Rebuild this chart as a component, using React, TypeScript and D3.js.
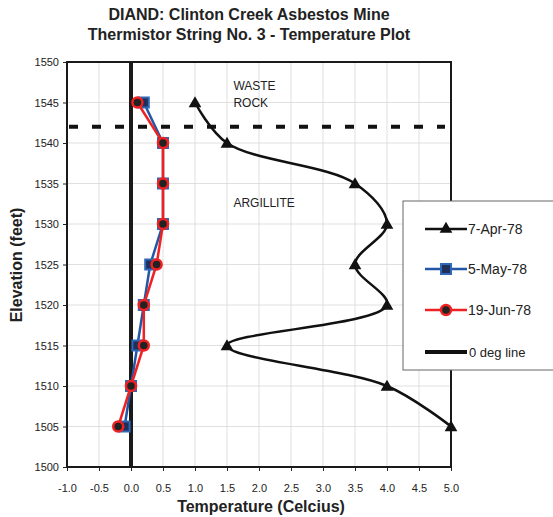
import React, { useEffect, useRef } from "react";
import * as d3 from "d3";

const elevations = [1545, 1540, 1535, 1530, 1525, 1520, 1515, 1510, 1505];
const apr78 = [1.0, 1.5, 3.5, 4.0, 3.5, 4.0, 1.5, 4.0, 5.0];
const may78 = [0.2, 0.5, 0.5, 0.5, 0.3, 0.2, 0.1, 0.0, -0.1];
const jun78 = [0.1, 0.5, 0.5, 0.5, 0.4, 0.2, 0.2, 0.0, -0.2];
const xTicks = [-1.0, -0.5, 0, 0.5, 1.0, 1.5, 2.0, 2.5, 3.0, 3.5, 4.0, 4.5, 5.0];
const yTicks = [1500, 1505, 1510, 1515, 1520, 1525, 1530, 1535, 1540, 1545, 1550];
const contactElevation = 1542;
const legendLabels = ["7-Apr-78", "5-May-78", "19-Jun-78", "0 deg line"];

const FONT = "Liberation Sans, Arial, sans-serif";

export default function App() {
  const svgRef = useRef<SVGSVGElement | null>(null);

  useEffect(() => {
    const width = 553;
    const height = 517;
    const margin = { top: 62, right: 102, bottom: 50, left: 67 };
    const w = width - margin.left - margin.right;
    const h = height - margin.top - margin.bottom;

    const svg = d3.select(svgRef.current);
    svg.selectAll("*").remove();
    svg.attr("width", width).attr("height", height).style("display", "block");

    svg.append("rect").attr("width", width).attr("height", height).attr("fill", "#fff");

    const x = d3.scaleLinear().domain([-1, 5]).range([0, w]);
    const y = d3.scaleLinear().domain([1500, 1550]).range([h, 0]);

    const chart = svg.append("g").attr("transform", `translate(${margin.left},${margin.top})`);

    // grid
    chart
      .selectAll(".vgrid")
      .data(xTicks)
      .enter()
      .append("line")
      .attr("x1", (d) => x(d))
      .attr("x2", (d) => x(d))
      .attr("y1", 0)
      .attr("y2", h)
      .attr("stroke", "#d8d8d8")
      .attr("stroke-width", 0.8);
    chart
      .selectAll(".hgrid")
      .data(yTicks)
      .enter()
      .append("line")
      .attr("x1", 0)
      .attr("x2", w)
      .attr("y1", (d) => y(d))
      .attr("y2", (d) => y(d))
      .attr("stroke", "#d8d8d8")
      .attr("stroke-width", 0.8);

    // axes
    const xAxis = chart
      .append("g")
      .attr("transform", `translate(0,${h})`)
      .call(
        d3
          .axisBottom(x)
          .tickValues(xTicks)
          .tickSize(4)
          .tickPadding(13)
          .tickFormat((d) => (d as number).toFixed(1))
      );
    const yAxis = chart
      .append("g")
      .call(d3.axisLeft(y).tickValues(yTicks).tickSize(4).tickPadding(4).tickFormat(d3.format("d")));
    [xAxis, yAxis].forEach((a) => {
      a.select(".domain").remove();
      a.selectAll("line").attr("stroke", "#222");
      a.selectAll("text").style("font-family", FONT).style("font-size", "11px").attr("fill", "#222");
    });

    // plot frame
    chart
      .append("rect")
      .attr("width", w)
      .attr("height", h)
      .attr("fill", "none")
      .attr("stroke", "#1a1a1a")
      .attr("stroke-width", 2);

    // contact line
    chart
      .append("line")
      .attr("x1", x(-1) + 2)
      .attr("x2", x(5) - 6)
      .attr("y1", y(contactElevation))
      .attr("y2", y(contactElevation))
      .attr("stroke", "#111")
      .attr("stroke-width", 4)
      .attr("stroke-dasharray", "9,14");

    // 0 deg line
    chart
      .append("line")
      .attr("x1", x(0))
      .attr("x2", x(0))
      .attr("y1", 0)
      .attr("y2", h)
      .attr("stroke", "#1a1a1a")
      .attr("stroke-width", 4);

    // annotations
    const note = (txt: string, ex: number, ey: number) =>
      chart
        .append("text")
        .attr("x", x(ex))
        .attr("y", y(ey))
        .style("font-family", FONT)
        .style("font-size", "12px")
        .attr("fill", "#222")
        .text(txt);
    note("WASTE", 1.6, 1546.5);
    note("ROCK", 1.6, 1544.5);
    note("ARGILLITE", 1.6, 1532.1);

    const toPts = (vals: number[]) => vals.map((v, i) => [v, elevations[i]] as [number, number]);

    const smooth = d3
      .line<[number, number]>()
      .x((d) => x(d[0]))
      .y((d) => y(d[1]))
      .curve(d3.curveCatmullRom.alpha(0.5));
    const straight = d3
      .line<[number, number]>()
      .x((d) => x(d[0]))
      .y((d) => y(d[1]));

    const tri = d3.symbol().type(d3.symbolTriangle).size(70);

    // blue series
    chart
      .append("path")
      .attr("d", straight(toPts(may78)))
      .attr("fill", "none")
      .attr("stroke", "#2456a6")
      .attr("stroke-width", 2.5);
    chart
      .selectAll(".sq")
      .data(toPts(may78))
      .enter()
      .append("rect")
      .attr("x", (d) => x(d[0]) - 5)
      .attr("y", (d) => y(d[1]) - 5)
      .attr("width", 10)
      .attr("height", 10)
      .attr("fill", "#1e2f5a")
      .attr("stroke", "#2f68b8")
      .attr("stroke-width", 2);

    // red series
    chart
      .append("path")
      .attr("d", straight(toPts(jun78)))
      .attr("fill", "none")
      .attr("stroke", "#ee2222")
      .attr("stroke-width", 2.5);
    chart
      .selectAll(".ci")
      .data(toPts(jun78))
      .enter()
      .append("circle")
      .attr("cx", (d) => x(d[0]))
      .attr("cy", (d) => y(d[1]))
      .attr("r", 5)
      .attr("fill", "#222")
      .attr("stroke", "#ee2222")
      .attr("stroke-width", 2.5);

    // black series
    chart
      .append("path")
      .attr("d", smooth(toPts(apr78)))
      .attr("fill", "none")
      .attr("stroke", "#111")
      .attr("stroke-width", 2.5);
    chart
      .selectAll(".tri")
      .data(toPts(apr78))
      .enter()
      .append("path")
      .attr("d", tri)
      .attr("transform", (d) => `translate(${x(d[0])},${y(d[1]) + 1})`)
      .attr("fill", "#111");

    // legend
    const lg = svg.append("g").attr("transform", "translate(403,201)");
    lg.append("rect")
      .attr("width", 152)
      .attr("height", 169)
      .attr("fill", "#fff")
      .attr("stroke", "#666")
      .attr("stroke-width", 1);
    const rowY = [28, 68, 109, 151];
    const colors = ["#111", "#2456a6", "#ee2222", "#111"];
    legendLabels.forEach((lab, i) => {
      const row = lg.append("g").attr("transform", `translate(0,${rowY[i]})`);
      row
        .append("line")
        .attr("x1", 22)
        .attr("x2", 64)
        .attr("y1", 0)
        .attr("y2", 0)
        .attr("stroke", colors[i])
        .attr("stroke-width", i === 3 ? 4 : 2.5);
      if (i === 0) row.append("path").attr("d", tri).attr("transform", "translate(43,0)").attr("fill", "#111");
      if (i === 1)
        row
          .append("rect")
          .attr("x", 38)
          .attr("y", -5)
          .attr("width", 10)
          .attr("height", 10)
          .attr("fill", "#1e2f5a")
          .attr("stroke", "#2f68b8")
          .attr("stroke-width", 2);
      if (i === 2)
        row
          .append("circle")
          .attr("cx", 43)
          .attr("cy", 0)
          .attr("r", 5)
          .attr("fill", "#222")
          .attr("stroke", "#ee2222")
          .attr("stroke-width", 2.5);
      row
        .append("text")
        .attr("x", i === 3 ? 66 : 65)
        .attr("y", 5)
        .style("font-family", FONT)
        .style("font-size", i === 3 ? "13px" : "14px")
        .attr("fill", "#222")
        .text(lab);
    });

    // titles
    const title = ["DIAND: Clinton Creek Asbestos Mine", "Thermistor String No. 3 - Temperature Plot"];
    title.forEach((t, i) =>
      svg
        .append("text")
        .attr("x", 249)
        .attr("y", 20 + i * 20)
        .attr("text-anchor", "middle")
        .style("font-family", FONT)
        .style("font-size", "16px")
        .style("font-weight", "bold")
        .attr("fill", "#222")
        .text(t)
    );

    svg
      .append("text")
      .attr("x", 261)
      .attr("y", 512)
      .attr("text-anchor", "middle")
      .style("font-family", FONT)
      .style("font-size", "16px")
      .style("font-weight", "bold")
      .attr("fill", "#222")
      .text("Temperature (Celcius)");

    svg
      .append("text")
      .attr("transform", "rotate(-90)")
      .attr("x", -265)
      .attr("y", 22)
      .attr("text-anchor", "middle")
      .style("font-family", FONT)
      .style("font-size", "16px")
      .style("font-weight", "bold")
      .attr("fill", "#222")
      .text("Elevation (feet)");
  }, []);

  return (
    <div style={{ position: "absolute", left: 0, top: 0 }}>
      <svg ref={svgRef}></svg>
    </div>
  );
}
